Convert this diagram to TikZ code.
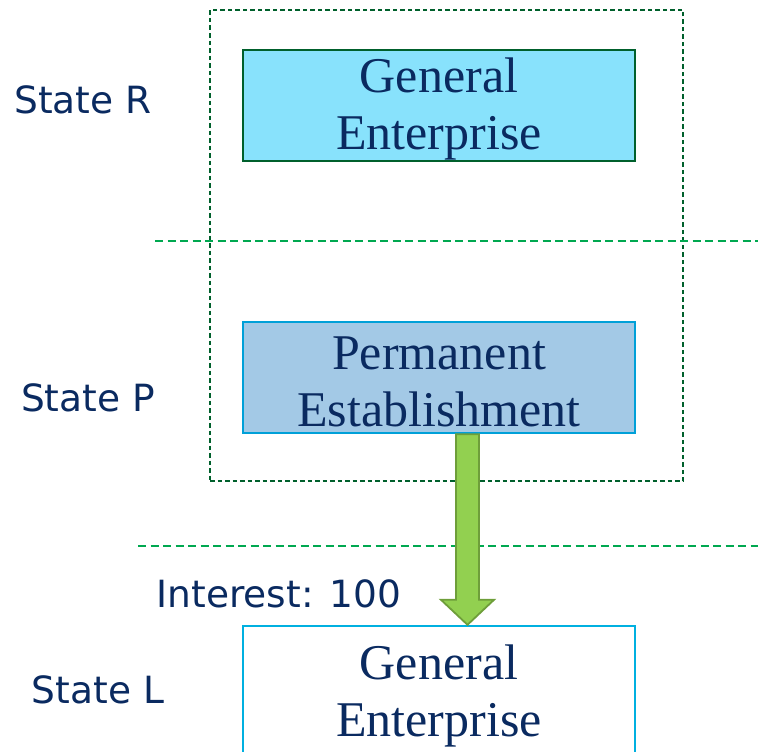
\documentclass[tikz,border=0pt]{standalone}
\usepackage{fontspec}
\setmainfont{Liberation Serif}
\newfontfamily\labelfont{DejaVu Sans}
\usetikzlibrary{calc}
\definecolor{navy}{HTML}{0A2A60}
\definecolor{darkgrn}{HTML}{00602C}
\definecolor{midgrn}{HTML}{00A850}
\definecolor{cyanfill}{HTML}{88E2FC}
\definecolor{pefill}{HTML}{A3C9E6}
\definecolor{peline}{HTML}{00A0D8}
\definecolor{boxline}{HTML}{00B0E0}
\definecolor{arrfill}{HTML}{92D050}
\definecolor{arrline}{HTML}{6E9E3A}
\newcommand{\firststrut}{\rule{0pt}{42pt}}
\tikzset{
  entbox/.style={draw, line width=2.4pt, minimum width=392pt, minimum height=111pt, inner sep=0pt, align=center, text=navy, font=\fontsize{50}{57}\selectfont},
  statelbl/.style={text=navy, font=\labelfont\fontsize{37.5}{42}\selectfont, inner sep=0pt},
  borderline/.style={draw=midgrn, line width=2pt, dash pattern=on 8pt off 4.5pt},
  groupbox/.style={draw=darkgrn, line width=2pt, dash pattern=on 4.5pt off 3pt},
  flowarrow/.style={fill=arrfill, draw=arrline, line width=1.8pt, line join=miter}
}
\begin{document}
\begin{tikzpicture}[x=1pt,y=-1pt]
\useasboundingbox (0,0) rectangle (758,752);
\clip (0,0) rectangle (758,752);
% group box
\node[groupbox, minimum width=473pt, minimum height=471pt, inner sep=0pt] (grp) at (446.5,245.5) {};
% dashed borders
\coordinate (b1l) at (155,241); \coordinate (b1r) at (760,241);
\coordinate (b2l) at (138,546); \coordinate (b2r) at (760,546);
\draw[borderline] (b1l) -- (b1r);
\draw[borderline] (b2l) -- (b2r);
% boxes
\node[entbox, draw=darkgrn, fill=cyanfill] (ge1) at (439,105.5) {\firststrut General\\Enterprise};
\node[entbox, draw=peline, fill=pefill] (pe) at (439,377.5) {\firststrut Permanent\\Establishment};
\node[entbox, draw=boxline, fill=white, minimum height=140pt] (ge2) at (439,696) {General\\Enterprise};
% arrow
\path (pe.south) ++(28.5,0) coordinate (a1);
\path (ge2.north) ++(28.5,0) coordinate (a2);
\draw[flowarrow] let \p1=(a1), \p2=(a2) in
  (\x1-11.5pt,\y1) -- (\x1-11.5pt,\y2+25pt) -- (\x1-26.5pt,\y2+25pt) -- (\x2,\y2)
  -- (\x1+26.5pt,\y2+25pt) -- (\x1+11.5pt,\y2+25pt) -- (\x1+11.5pt,\y1) -- cycle;
% labels
\node[statelbl] (sr) at (83,100) {State R};
\node[statelbl] (sp) at (88,398) {State P};
\node[statelbl] (sl) at (98,690) {State L};
\node[statelbl] (int) at (279,594) {Interest: 100};
\end{tikzpicture}
\end{document}
